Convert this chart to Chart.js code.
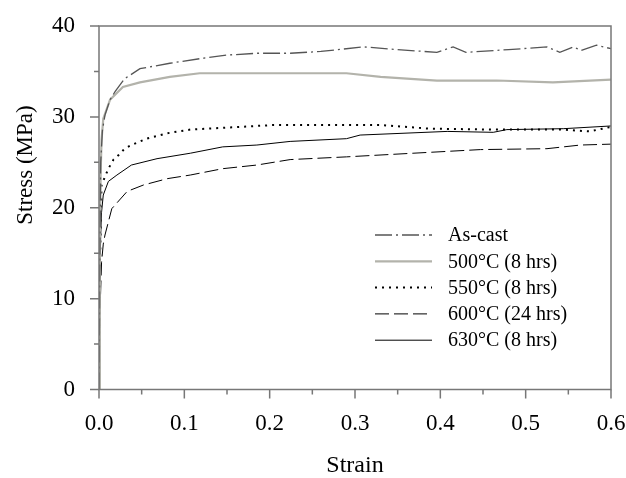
<!DOCTYPE html>
<html>
<head>
<meta charset="utf-8">
<script src="https://cdn.jsdelivr.net/npm/chart.js@4.4.1/dist/chart.umd.min.js"></script>
<style>
  html, body { margin: 0; padding: 0; background: #fff; }
  #wrap { position: relative; width: 626px; height: 478px; }
</style>
</head>
<body>
<div id="wrap"><canvas id="c" width="626" height="478"></canvas></div>
<script>
// ---- data ----
const seriesLabels = ["As-cast", "500°C (8 hrs)", "550°C (8 hrs)", "600°C (24 hrs)", "630°C (8 hrs)"];

const strainAsCast = [0, 0.001, 0.002, 0.004, 0.007, 0.013, 0.019, 0.03, 0.048, 0.083, 0.118, 0.15, 0.185, 0.224, 0.26, 0.31, 0.35, 0.396, 0.415, 0.43, 0.48, 0.525, 0.54, 0.556, 0.565, 0.583, 0.6];
const stressAsCast = [0, 15, 25, 28.5, 30.2, 31.9, 32.8, 34.2, 35.3, 35.9, 36.4, 36.8, 37.0, 37.0, 37.2, 37.7, 37.4, 37.1, 37.7, 37.1, 37.4, 37.7, 37.1, 37.7, 37.3, 37.9, 37.5];

const strain500 = [0, 0.001, 0.002, 0.003, 0.005, 0.013, 0.028, 0.048, 0.083, 0.118, 0.224, 0.29, 0.33, 0.396, 0.466, 0.532, 0.6];
const stress500 = [0, 17, 24, 27.5, 29.8, 31.9, 33.3, 33.8, 34.4, 34.8, 34.8, 34.8, 34.4, 34.0, 34.0, 33.8, 34.1];

const strain550 = [0, 0.001, 0.002, 0.003, 0.007, 0.011, 0.017, 0.023, 0.03, 0.038, 0.056, 0.08, 0.107, 0.165, 0.204, 0.33, 0.388, 0.466, 0.544, 0.575, 0.6];
const stress550 = [0, 12, 19, 22.5, 23.4, 24.3, 25.3, 25.8, 26.5, 26.9, 27.6, 28.2, 28.6, 28.9, 29.1, 29.1, 28.7, 28.6, 28.6, 28.4, 28.9];

const strain600 = [0, 0.001, 0.003, 0.005, 0.007, 0.015, 0.033, 0.052, 0.08, 0.107, 0.145, 0.185, 0.224, 0.29, 0.368, 0.447, 0.525, 0.564, 0.6];
const stress600 = [0, 8, 14, 16, 17.0, 19.9, 21.8, 22.5, 23.2, 23.6, 24.3, 24.7, 25.3, 25.6, 26.0, 26.4, 26.5, 26.9, 27.0];

const strain630 = [0, 0.001, 0.002, 0.003, 0.005, 0.011, 0.021, 0.038, 0.068, 0.107, 0.145, 0.185, 0.224, 0.29, 0.306, 0.408, 0.462, 0.478, 0.544, 0.6];
const stress630 = [0, 12, 17, 19.5, 21.4, 22.9, 23.6, 24.7, 25.4, 26.0, 26.7, 26.9, 27.3, 27.6, 28.0, 28.4, 28.3, 28.6, 28.7, 29.0];

const xTicks = [0, 0.1, 0.2, 0.3, 0.4, 0.5, 0.6];
const yTicks = [0, 10, 20, 30, 40];

// ---- build ----
function pts(xs, ys) { return xs.map((x, i) => ({ x: x, y: ys[i] })); }

const styles = [
  { color: '#555555', width: 1.3, dash: [17, 4, 2, 4] },
  { color: '#b3b3ab', width: 2.2, dash: [] },
  { color: '#000000', width: 2, dash: [2, 5] },
  { color: '#000000', width: 1, dash: [14, 5] },
  { color: '#000000', width: 1, dash: [] }
];
const seriesData = [
  pts(strainAsCast, stressAsCast),
  pts(strain500, stress500),
  pts(strain550, stress550),
  pts(strain600, stress600),
  pts(strain630, stress630)
];

const datasets = seriesLabels.map((lab, i) => ({
  label: lab,
  data: seriesData[i],
  showLine: true,
  borderColor: styles[i].color,
  backgroundColor: styles[i].color,
  borderWidth: styles[i].width,
  borderDash: styles[i].dash,
  pointRadius: 0,
  tension: 0,
  fill: false
}));

const FONT = "'Liberation Serif', 'Times New Roman', serif";
const AXIS = '#777777';

const framePlugin = {
  id: 'frame',
  afterDraw(chart) {
    const ctx = chart.ctx;
    const a = chart.chartArea;
    const xs = chart.scales.x, ys = chart.scales.y;
    ctx.save();
    ctx.strokeStyle = AXIS;
    ctx.lineWidth = 1.5;
    ctx.setLineDash([]);
    ctx.strokeRect(a.left, a.top, a.right - a.left, a.bottom - a.top);
    // major + minor ticks
    ctx.beginPath();
    for (let v = 0; v <= 40.001; v += 5) {
      const y = ys.getPixelForValue(v);
      const len = (Math.round(v) % 10 === 0) ? 9 : 5;
      ctx.moveTo(a.left - len, y); ctx.lineTo(a.left, y);
    }
    for (let k = 0; k <= 12; k++) {
      const v = k * 0.05;
      const x = xs.getPixelForValue(v);
      const len = (k % 2 === 0) ? 9 : 5;
      ctx.moveTo(x, a.bottom); ctx.lineTo(x, a.bottom + len);
    }
    ctx.stroke();
    // y axis title
    ctx.fillStyle = '#000';
    ctx.font = "23px " + FONT;
    ctx.textAlign = 'center';
    ctx.textBaseline = 'middle';
    ctx.translate(26, 165);
    ctx.rotate(-Math.PI / 2);
    ctx.fillText('Stress (MPa)', 0, 0);
    ctx.restore();

    // legend
    ctx.save();
    const x0 = 375, x1 = 432, tx = 448, y0 = 235, dy = 26.3;
    chart.data.datasets.forEach((ds, i) => {
      const y = y0 + i * dy;
      ctx.strokeStyle = ds.borderColor;
      ctx.lineWidth = ds.borderWidth;
      ctx.setLineDash(ds.borderDash || []);
      ctx.beginPath();
      ctx.moveTo(x0, y); ctx.lineTo(x1, y);
      ctx.stroke();
      ctx.fillStyle = '#000';
      ctx.font = "20px " + FONT;
      ctx.textAlign = 'left';
      ctx.textBaseline = 'middle';
      ctx.fillText(ds.label, tx, y + 1);
    });
    ctx.restore();
  }
};

new Chart(document.getElementById('c'), {
  type: 'scatter',
  data: { datasets: datasets },
  options: {
    responsive: false,
    animation: false,
    devicePixelRatio: 1,
    layout: { padding: { top: 26, right: 15, left: 0, bottom: 0 } },
    plugins: { legend: { display: false }, tooltip: { enabled: false } },
    scales: {
      x: {
        type: 'linear', min: 0, max: 0.6,
        afterBuildTicks(s) { s.ticks = xTicks.map(v => ({ value: v })); },
        afterFit(s) { s.height = 88.5; s.paddingLeft = 0; s.paddingRight = 0; },
        grid: { display: false, drawTicks: false },
        border: { display: false },
        ticks: {
          padding: 21, color: '#000', font: { family: FONT, size: 23 },
          maxRotation: 0, callback: v => v.toFixed(1)
        },
        title: { display: true, text: 'Strain', color: '#000', font: { family: FONT, size: 24, lineHeight: 1 }, padding: { top: 0, bottom: 0 } }
      },
      y: {
        type: 'linear', min: 0, max: 40,
        afterBuildTicks(s) { s.ticks = yTicks.map(v => ({ value: v })); },
        afterFit(s) { s.width = 99; s.paddingTop = 0; s.paddingBottom = 0; },
        grid: { display: false, drawTicks: false },
        border: { display: false },
        ticks: { padding: 24, color: '#000', font: { family: FONT, size: 23 }, callback: v => String(v) }
      }
    }
  },
  plugins: [framePlugin]
});
</script>
</body>
</html>
